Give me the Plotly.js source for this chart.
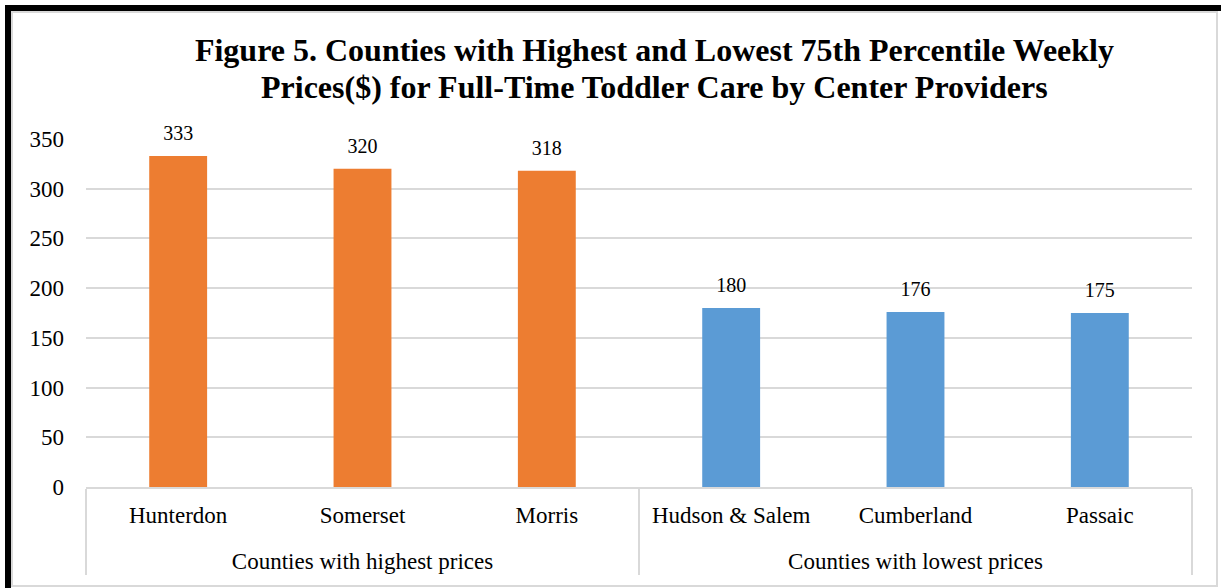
<!DOCTYPE html>
<html>
<head>
<meta charset="utf-8">
<script src="https://cdn.plot.ly/plotly-3.0.1.min.js"></script>
<style>
  html, body { margin: 0; padding: 0; background: #fff; }
  #wrap { position: relative; width: 1221px; height: 588px; overflow: hidden; }
  #chart { position: absolute; left: 0; top: 0; width: 1221px; height: 588px; }
  #frameBlack { position: absolute; left: 5px; top: 5px; width: 1300px; height: 700px;
    border-top: 6px solid #000; border-left: 6px solid #000; pointer-events: none; }
  #frameGray { position: absolute; left: 11px; top: 11px; width: 1203px; height: 572px;
    border: 2px solid #d9d9d9; pointer-events: none; }
</style>
</head>
<body>
<div id="wrap">
  <div id="chart"></div>
  <div id="frameBlack"></div>
  <div id="frameGray"></div>
</div>
<script>
const groups = [
  "Counties with highest prices", "Counties with highest prices", "Counties with highest prices",
  "Counties with lowest prices", "Counties with lowest prices", "Counties with lowest prices"
];
const counties = ["Hunterdon", "Somerset", "Morris", "Hudson & Salem", "Cumberland", "Passaic"];
const prices = [333, 320, 318, 180, 176, 175];
const groupColors = {
  "Counties with highest prices": "#ED7D31",
  "Counties with lowest prices": "#5B9BD5"
};
const titleLine1 = "Figure 5. Counties with Highest and Lowest 75th Percentile Weekly";
const titleLine2 = "Prices($) for Full-Time Toddler Care by Center Providers";

const serif = "Liberation Serif, Times New Roman, serif";

// county tick text with a tiny spacer line to open space before the group row
const countyTicks = counties.map(c => c + "<br><span style=\"font-size:1px\">&nbsp;</span>");

const bars = {
  type: "bar",
  x: [groups, countyTicks],
  y: prices,
  marker: { color: groups.map(g => groupColors[g]) },
  hoverinfo: "skip",
  showlegend: false
};

const labels = {
  type: "scatter",
  mode: "markers+text",
  x: [groups, countyTicks],
  y: prices,
  text: prices.map(String),
  textposition: "top center",
  textfont: { family: serif, size: 20, color: "#000" },
  marker: { size: 16, color: "rgba(0,0,0,0)" },
  hoverinfo: "skip",
  showlegend: false,
  cliponaxis: false
};

const layout = {
  width: 1221,
  height: 588,
  margin: { l: 86, r: 29, t: 139, b: 101 },
  paper_bgcolor: "#ffffff",
  plot_bgcolor: "#ffffff",
  font: { family: serif, color: "#000" },
  title: {
    text: titleLine1,
    font: { family: serif, size: 32, color: "#000", weight: "bold" },
    x: 0.536, xanchor: "center", xref: "container",
    y: 0.934, yanchor: "top", yref: "container"
  },
  annotations: [{
    text: titleLine2,
    font: { family: serif, size: 32, color: "#000", weight: "bold" },
    showarrow: false,
    xref: "paper", yref: "paper",
    x: 0.5136, y: 1, xanchor: "center", yanchor: "bottom",
    yshift: 32
  }],
  bargap: 0.686,
  xaxis: {
    type: "multicategory",
    showline: true,
    linecolor: "#d9d9d9",
    linewidth: 2,
    showgrid: false,
    ticks: "",
    showdividers: true,
    dividercolor: "#d9d9d9",
    dividerwidth: 2,
    ticklabelstandoff: 6,
    tickfont: { family: serif, size: 23, color: "#000" },
    fixedrange: true
  },
  yaxis: {
    range: [0, 350],
    dtick: 50,
    showline: false,
    zeroline: false,
    gridcolor: "#d9d9d9",
    gridwidth: 2,
    ticks: "",
    ticklabelstandoff: 21,
    tickfont: { family: serif, size: 23, color: "#000" },
    fixedrange: true
  }
};

Plotly.newPlot("chart", [bars, labels], layout, { displayModeBar: false, staticPlot: true });
</script>
</body>
</html>
